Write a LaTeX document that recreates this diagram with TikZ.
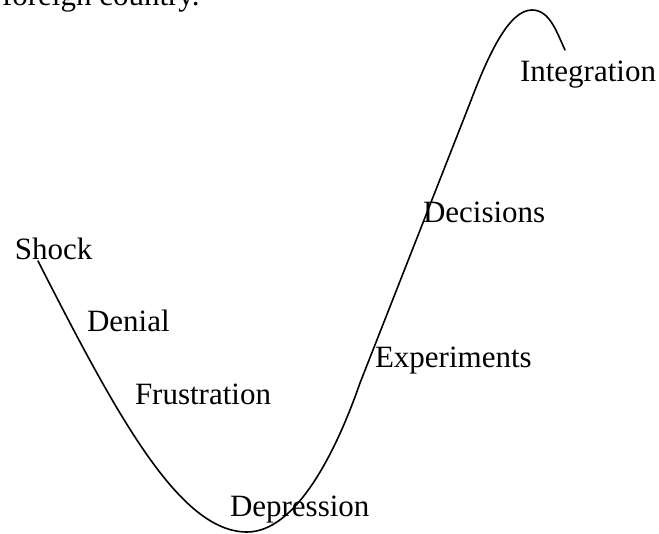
\documentclass[tikz,border=0pt]{standalone}
\usepackage{fontspec}
\setmainfont{Liberation Serif}
\tikzset{
  lbl/.style={anchor=base west, inner sep=0pt, outer sep=0pt, font=\fontsize{31}{37}\selectfont},
  curve/.style={line width=1.6pt, line cap=round, line join=round}
}
\begin{document}
\begin{tikzpicture}[x=1pt,y=-1pt]
\useasboundingbox (0,0) rectangle (659,534);
\node[lbl] (top) at (2,6) {foreign country.};
\node[lbl] (shock) at (15,260) {Shock};
\node[lbl] (denial) at (87,332) {Denial};
\node[lbl] (frus) at (135,405) {Frustration};
\node[lbl] (depr) at (230,517) {Depression};
\node[lbl] (exp) at (375,368) {Experiments};
\node[lbl] (dec) at (423,223) {Decisions};
\node[lbl] (integ) at (520,82) {Integration};
\coordinate (s) at (38,261);
\coordinate (b) at (247,532);
\coordinate (m) at (360,383);
\coordinate (u) at (470,103);
\coordinate (p) at (532,10);
\coordinate (e) at (565,50);
\draw[curve] (s) .. controls (118,418) and (180,532) .. (b)
  .. controls (295,532) and (335,455) .. (m)
  -- (u)
  .. controls (490,50) and (510,10) .. (p)
  .. controls (550,10) and (557,33) .. (e);
\end{tikzpicture}
\end{document}
